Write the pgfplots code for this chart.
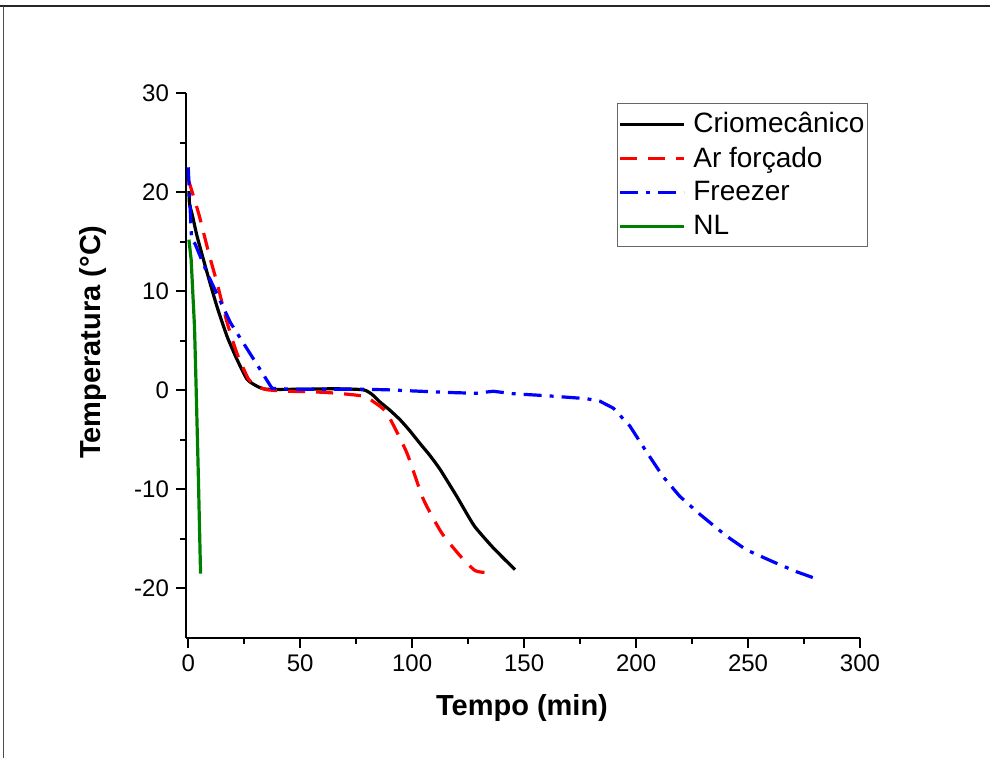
\documentclass[border=0pt]{standalone}
\usepackage{fontspec}
\setmainfont{Liberation Sans}
\usepackage{pgfplots}
\pgfplotsset{compat=1.18}

\definecolor{ogreen}{RGB}{0,128,0}

\begin{document}
\begin{tikzpicture}
% page = 990x758 px at 0.5pt per px; axis box lower-left at origin
\path[use as bounding box, fill=white] (-93pt,-60pt) rectangle (402pt,319pt);
\draw[line width=0.8pt, black!85] (-93pt,316pt) -- (402pt,316pt);
\draw[line width=0.5pt, black!70] (-91pt,-60pt) -- (-91pt,316pt);

\begin{axis}[
  at={(0pt,0pt)}, anchor=south west,
  scale only axis, width=337pt, height=272.5pt,
  xmin=-1, xmax=300, ymin=-25, ymax=30,
  xtick={0,50,...,300}, ytick={-20,-10,...,30},
  minor x tick num=1, minor y tick num=1,
  axis x line*=bottom, axis y line*=left,
  axis line style={line width=1pt},
  tick align=outside,
  major tick length=5pt, minor tick length=3pt,
  every tick/.style={black, line width=1pt},
  /pgf/number format/assume math mode=true,
  tick label style={font=\fontsize{12}{14}\selectfont},
  xlabel={\bfseries Tempo (min)},
  ylabel={\bfseries Temperatura (°C)},
  label style={font=\fontsize{14.5}{17}\selectfont},
  xlabel style={at={(axis description cs:0.4985,-0.143)}, anchor=base},
  ylabel style={at={(axis description cs:-0.138,0.543)}, anchor=center},
  legend style={at={(axis description cs:1.0119,0.9817)}, anchor=north east,
    draw=black!60, line width=0.5pt, font=\fontsize{14}{16}\selectfont,
    inner xsep=0.5pt, inner ysep=3.5pt, row sep=3.6pt,
    nodes={inner sep=1pt}},
  legend cell align=left,
  legend image code/.code={\draw[#1] (0pt,0pt) -- (32pt,0pt); \path (35pt,0pt);},
  every axis plot/.append style={line width=1.6pt},
]
\addplot[black, smooth, tension=0.35] coordinates {
(0.3,20.1)(0.6,18.8)(2,17.5)(4,15.5)(8.5,11.8)(12.9,8.4)(17.4,5.4)
(21.8,3.1)(26.3,1.1)(30.8,0.4)(35,0.1)(50,0.1)(65,0.15)(75,0.1)(79,0)(82,-0.4)
(85.7,-1.2)(90,-2.0)(94.7,-3.0)(99,-4.1)(103.6,-5.4)(108,-6.6)(112.5,-8.0)
(119.9,-10.7)(124,-12.3)(128.1,-13.8)(136.2,-15.9)(145.9,-18.1)};
\addlegendentry{Criomecânico}
\addplot[red, dash pattern=on 8.5pt off 5.5pt, smooth, tension=0.35] coordinates {
(0,21.3)(4.7,17.8)(9.2,13.8)(12.9,10.8)(17.4,6.8)(21.8,3.7)(27,1.1)(31,0.4)
(35.2,0.05)(45,-0.1)(55,-0.15)(66.4,-0.3)(78.3,-0.6)(83,-1.2)(88.7,-2.3)
(97.6,-6.3)(105,-11)(113.2,-14.4)(121.4,-16.7)(128.1,-18.2)(133.3,-18.4)};
\addlegendentry{Ar forçado}
\addplot[blue, dash pattern=on 9pt off 4pt on 2pt off 4pt] coordinates {
(0,22.5)(1.5,15.2)(3,14.8)(8.5,11.8)(18.9,6.8)(29.3,3.1)(37.4,0.2)(47,0.1)
(60,0.1)(78,0.1)(88.7,0.05)(103.6,-0.1)(120,-0.25)(128.8,-0.3)(136.2,-0.1)
(145.2,-0.35)(160,-0.55)(177.9,-0.85)(183.8,-1.1)(189.8,-1.8)(197.2,-3.6)
(204.6,-6.2)(212,-8.7)(219.5,-10.7)(228.4,-12.5)(240.3,-14.7)(249.2,-16.1)
(261.1,-17.3)(271.5,-18.3)(278.9,-18.9)};
\addlegendentry{Freezer}
\addplot[ogreen] coordinates {
(0.3,15.2)(1.3,13.2)(2.8,6.4)(3.5,0.5)(4.5,-8.5)(5.5,-18.5)};
\addlegendentry{NL}
\end{axis}
\end{tikzpicture}
\end{document}
